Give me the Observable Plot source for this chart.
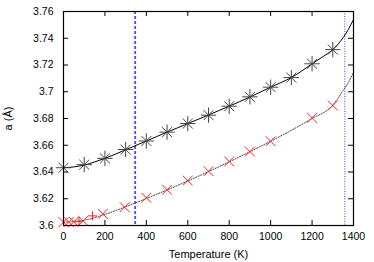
<!DOCTYPE html>
<html>
<head>
<meta charset="utf-8">
<script src="https://cdn.jsdelivr.net/npm/d3@7"></script>
<script src="https://cdn.jsdelivr.net/npm/@observablehq/plot@0.6"></script>
<style>
  html, body { margin: 0; padding: 0; background: #fff; }
  #chart svg { display: block; font-family: "Liberation Sans", Arial, Helvetica, sans-serif; }
</style>
</head>
<body>
<div id="chart"></div>
<script>
// Black series (asterisks) and its fit
const starT = [0, 100, 200, 300, 400, 500, 600, 700, 800, 900, 1000, 1100, 1200, 1300];
const starA = [3.6432, 3.6455, 3.6502, 3.6568, 3.6632, 3.6698, 3.6762, 3.6825, 3.6892, 3.6962, 3.7034, 3.7106, 3.7209, 3.7315];
const fitBlackT = [0, 50, 100, 150, 200, 250, 300, 350, 400, 450, 500, 550, 600, 650, 700, 750, 800, 850, 900, 950, 1000, 1050, 1100, 1150, 1200, 1250, 1300, 1325, 1350, 1375, 1400];
const fitBlackA = [3.6432, 3.6438, 3.6452, 3.6475, 3.6502, 3.6533, 3.6566, 3.6599, 3.6632, 3.6665, 3.6698, 3.6730, 3.6762, 3.6794, 3.6826, 3.6859, 3.6892, 3.6926, 3.6961, 3.6997, 3.7034, 3.7069, 3.7106, 3.7155, 3.7209, 3.7260, 3.7315, 3.7355, 3.7405, 3.7465, 3.7540];

// Red series (crosses, plus) and its dotted fit
const crossT = [0, 25, 50, 95, 190, 295, 400, 500, 600, 700, 800, 900, 1000, 1200, 1300];
const crossA = [3.6025, 3.6026, 3.6028, 3.6034, 3.6087, 3.6137, 3.6207, 3.6267, 3.6336, 3.6406, 3.6479, 3.6553, 3.6630, 3.6805, 3.6897];
const plusT = [75, 140];
const plusA = [3.6031, 3.6072];
const fitRedT = [0, 100, 200, 300, 400, 500, 600, 700, 800, 900, 1000, 1100, 1200, 1300, 1325, 1350, 1375, 1400];
const fitRedA = [3.6025, 3.6040, 3.6083, 3.6140, 3.6202, 3.6266, 3.6333, 3.6403, 3.6476, 3.6552, 3.6630, 3.6712, 3.6800, 3.6900, 3.6950, 3.7010, 3.7068, 3.7145];

// Vertical markers
const dashedLineT = [346];
const dottedLineT = [1358];

// Ticks
const xTicks = [0, 200, 400, 600, 800, 1000, 1200, 1400];
const yTicks = [3.60, 3.62, 3.64, 3.66, 3.68, 3.70, 3.72, 3.74, 3.76];
const xLabel = "Temperature (K)";
const yLabel = "a (Å)";

const zip = (xs, ys) => xs.map((x, i) => ({x, y: ys[i]}));
const stars = zip(starT, starA);
const fitBlack = zip(fitBlackT, fitBlackA);
const crosses = zip(crossT, crossA);
const pluses = zip(plusT, plusA);
const fitRed = zip(fitRedT, fitRedA);

const W = 374, H = 262, ML = 63, MR = 21, MT = 11, MB = 37;
const innerW = W - ML - MR, innerH = H - MT - MB, tk = 5;
const fmt = d => String(+d.toFixed(2));

const chart = Plot.plot({
  width: W, height: H,
  marginLeft: ML, marginRight: MR, marginTop: MT, marginBottom: MB,
  style: {fontSize: "10.5px", fontFamily: "'Liberation Sans', Arial, sans-serif", color: "#000", background: "#fff"},
  x: {domain: [0, 1400]},
  y: {domain: [3.6, 3.76]},
  marks: [
    Plot.axisX(xTicks, {tickSize: 0, tickPadding: 7, tickFormat: d => String(d), label: null, fontSize: 10.5}),
    Plot.axisY(yTicks, {tickSize: 0, tickPadding: 10, tickFormat: fmt, label: null, fontSize: 10.5}),
    Plot.axisX({ticks: [], tickSize: 0, label: xLabel, labelAnchor: "center", labelArrow: "none", labelOffset: 32, fontSize: 11}),
    Plot.axisY({ticks: [], tickSize: 0, label: yLabel, labelAnchor: "center", labelArrow: "none", labelOffset: 59, fontSize: 11}),
    // inward mirrored ticks
    Plot.tickX(xTicks, {x: d => d, insetTop: innerH - tk, stroke: "#000"}),
    Plot.tickX(xTicks, {x: d => d, insetBottom: innerH - tk, stroke: "#000"}),
    Plot.tickY(yTicks, {y: d => d, insetRight: innerW - tk, stroke: "#000"}),
    Plot.tickY(yTicks, {y: d => d, insetLeft: innerW - tk, stroke: "#000"}),
    // vertical markers
    Plot.ruleX(dashedLineT, {x: d => d, stroke: "#4a4aff", strokeWidth: 1.8, strokeDasharray: "3,2"}),
    Plot.ruleX(dottedLineT, {x: d => d, stroke: "#3c3cff", strokeWidth: 1, strokeDasharray: "1,1.5"}),
    // fits
    Plot.line(fitRed, {x: "x", y: "y", curve: "monotone-x", stroke: "#444", strokeWidth: 1, strokeDasharray: "1.2,1.5"}),
    Plot.line(fitBlack, {x: "x", y: "y", curve: "monotone-x", stroke: "#000", strokeWidth: 1}),
    // points
    Plot.dot(stars, {x: "x", y: "y", symbol: "plus", r: 5, stroke: "#444", strokeWidth: 1}),
    Plot.dot(stars, {x: "x", y: "y", symbol: "times", r: 4.6, stroke: "#444", strokeWidth: 1}),
    Plot.dot(crosses, {x: "x", y: "y", symbol: "times", r: 4.5, stroke: "#ff2020", strokeWidth: 1}),
    Plot.dot(pluses, {x: "x", y: "y", symbol: "plus", r: 3, stroke: "#ff2020", strokeWidth: 1}),
    Plot.frame({stroke: "#000", strokeWidth: 1.2})
  ]
});
document.getElementById("chart").appendChild(chart);
</script>
</body>
</html>
